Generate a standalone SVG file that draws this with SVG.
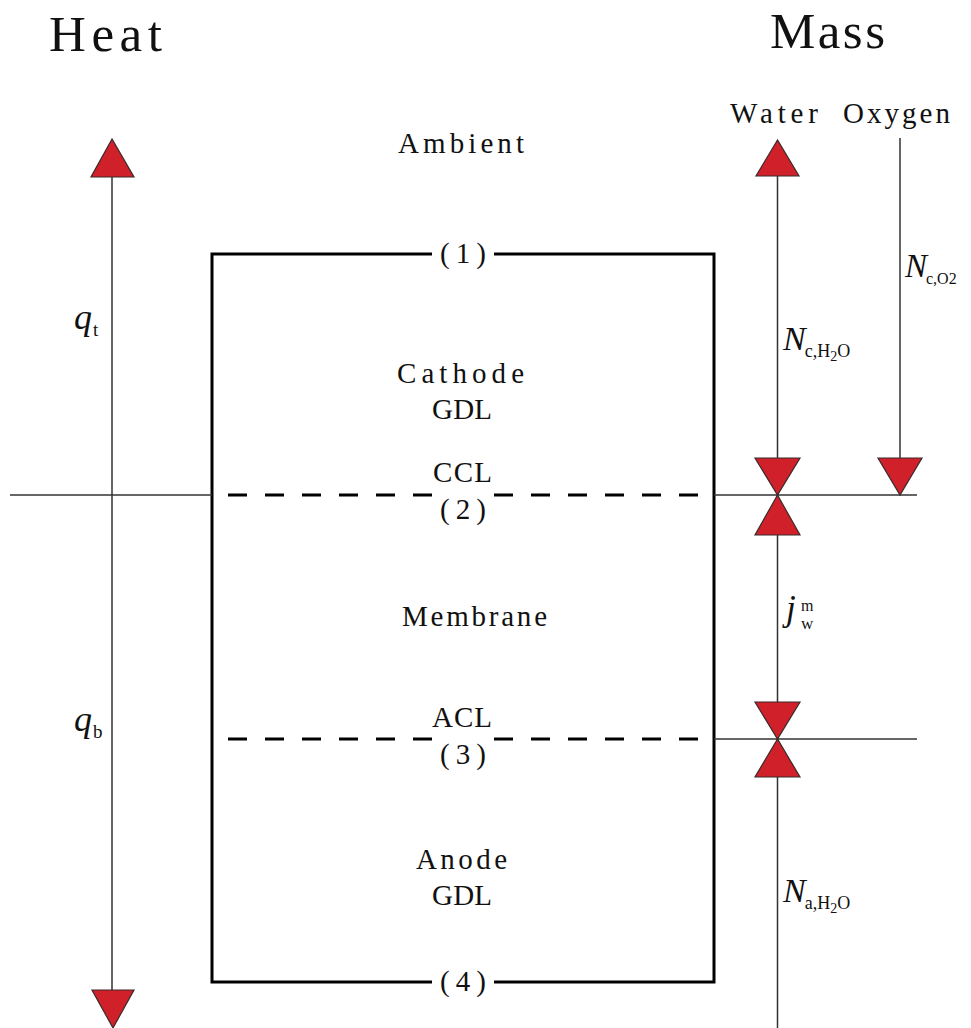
<svg xmlns="http://www.w3.org/2000/svg" width="971" height="1028" viewBox="0 0 971 1028">
<style>
.t{font-family:"Liberation Serif","Times New Roman",serif;fill:#111;}
.lbl{font-size:29px;}
.big{font-size:51px;}
.it{font-style:italic;}
.thin{stroke:#333;stroke-width:1.5;fill:none;}
.box{stroke:#000;stroke-width:3;fill:none;}
.dash{stroke:#000;stroke-width:3;fill:none;stroke-dasharray:19 18;}
.tri{fill:#d0202a;stroke:#3a2a2a;stroke-width:1.2;stroke-linejoin:miter;}
</style>
<rect width="971" height="1028" fill="#fff"/>
<g id="titles">
<text class="t big" x="49" y="51" textLength="113" lengthAdjust="spacing">Heat</text>
<text class="t big" x="770" y="48" textLength="115" lengthAdjust="spacing">Mass</text>
<text class="t lbl" x="730" y="123" textLength="88" lengthAdjust="spacing">Water</text>
<text class="t lbl" x="843" y="123" textLength="107" lengthAdjust="spacing">Oxygen</text>
</g>
<g id="cell">
<path class="box" d="M432,254 H212 V982 H432 M494,982 H714 V254 H494"/>
<path class="dash" d="M212,495 H432" stroke-dashoffset="21"/>
<path class="dash" d="M494,495 H714"/>
<path class="dash" d="M212,739 H432" stroke-dashoffset="21"/>
<path class="dash" d="M494,739 H714"/>
</g>
<g id="labels">
<text class="t lbl" x="398" y="153" textLength="126" lengthAdjust="spacing">Ambient</text>
<text class="t lbl" x="440" y="263" textLength="46" lengthAdjust="spacing">(1)</text>
<text class="t lbl" x="397" y="383" textLength="127" lengthAdjust="spacing">Cathode</text>
<text class="t lbl" x="432" y="419" textLength="60" lengthAdjust="spacing">GDL</text>
<text class="t lbl" x="433" y="482" textLength="59" lengthAdjust="spacing">CCL</text>
<text class="t lbl" x="440" y="519" textLength="46" lengthAdjust="spacing">(2)</text>
<text class="t lbl" x="402" y="626" textLength="145" lengthAdjust="spacing">Membrane</text>
<text class="t lbl" x="432" y="727" textLength="60" lengthAdjust="spacing">ACL</text>
<text class="t lbl" x="440" y="764" textLength="46" lengthAdjust="spacing">(3)</text>
<text class="t lbl" x="416" y="869" textLength="91" lengthAdjust="spacing">Anode</text>
<text class="t lbl" x="432" y="905" textLength="60" lengthAdjust="spacing">GDL</text>
<text class="t lbl" x="440" y="991" textLength="46" lengthAdjust="spacing">(4)</text>
</g>
<g id="connectors">
<line class="thin" x1="10" y1="495" x2="212" y2="495"/>
<line class="thin" x1="714" y1="495" x2="917" y2="495"/>
<line class="thin" x1="714" y1="739" x2="917" y2="739"/>
<line class="thin" x1="112" y1="177" x2="112" y2="990"/>
<line class="thin" x1="777.5" y1="176" x2="777.5" y2="1028"/>
<line class="thin" x1="900" y1="138" x2="900" y2="458"/>
<polygon class="tri" points="112,139 91,177 134,177"/>
<polygon class="tri" points="92,990 134,990 113,1028"/>
<polygon class="tri" points="777.5,140 756,176 799,176"/>
<polygon class="tri" points="755,458 800,458 777.5,495"/>
<polygon class="tri" points="777.5,495 755,535 800,535"/>
<polygon class="tri" points="755,702 800,702 777.5,739"/>
<polygon class="tri" points="777.5,739 755,777 800,777"/>
<polygon class="tri" points="878,458 922,458 900,495"/>
</g>
<g id="math">
<text class="t" x="74" y="329"><tspan class="it" font-size="36">q</tspan><tspan font-size="19" dx="1" dy="7">t</tspan></text>
<text class="t" x="74" y="731"><tspan class="it" font-size="36">q</tspan><tspan font-size="19" dx="1" dy="7">b</tspan></text>
<text class="t" x="783" y="350"><tspan class="it" font-size="34">N</tspan><tspan font-size="18" dx="-1" dy="7">c,H</tspan><tspan font-size="14" dy="4">2</tspan><tspan font-size="18" dy="-4">O</tspan></text>
<text class="t" x="905" y="277"><tspan class="it" font-size="33">N</tspan><tspan font-size="16" dx="-1" dy="7">c,O2</tspan></text>
<text class="t" x="786" y="620"><tspan class="it" font-size="35">j</tspan></text>
<text class="t" x="801" y="611" font-size="16">m</text>
<text class="t" x="801" y="629" font-size="17">w</text>
<text class="t" x="783" y="902"><tspan class="it" font-size="34">N</tspan><tspan font-size="18" dx="-1" dy="7">a,H</tspan><tspan font-size="14" dy="4">2</tspan><tspan font-size="18" dy="-4">O</tspan></text>
</g>
</svg>
